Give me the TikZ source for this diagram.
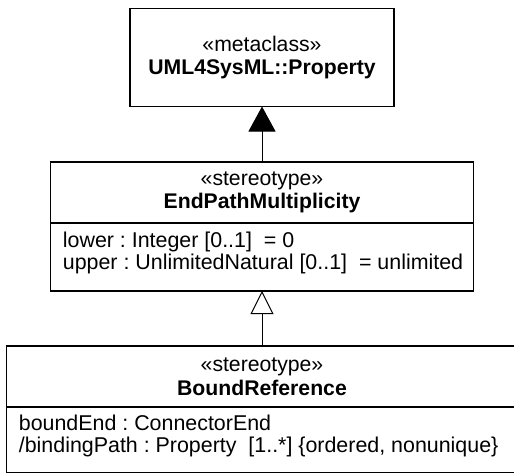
\documentclass[tikz,border=0pt]{standalone}
\usepackage{fontspec}
\setmainfont{Liberation Sans}
\usetikzlibrary{arrows.meta}
\frenchspacing

\begin{document}
\begin{tikzpicture}[x=.5pt,y=-.5pt,
  umlbox/.style={draw,line width=.7pt,inner sep=0pt,outer sep=0pt,
    font=\fontsize{10.6}{11.75}\selectfont,align=center},
  attrtext/.style={inner sep=0pt,anchor=north west,align=left,
    font=\fontsize{10.7}{11}\selectfont}]
\useasboundingbox (0,0) rectangle (514,473);
\clip (0,0) rectangle (514,473);

% metaclass
\node[umlbox,minimum width=132pt,minimum height=49pt] (prop) at (262,57.5)
  {«metaclass»\\\textbf{UML4SysML::Property}};

% EndPathMultiplicity
\node[umlbox,minimum width=211.5pt,minimum height=30.5pt] (epmHead) at (262,192.5)
  {«stereotype»\\\textbf{EndPathMultiplicity}};
\node[umlbox,minimum width=211.5pt,minimum height=34pt] (epmAttr) at (262,257) {};
\node[attrtext,shift={(12,9)}] (epmText) at (epmAttr.north west)
  {lower : Integer [0..1]\ \ = 0\\upper : UnlimitedNatural [0..1]\ \ = unlimited};

% BoundReference
\node[umlbox,minimum width=255.5pt,minimum height=30.5pt] (brHead) at (262,376.5)
  {«stereotype»\\\textbf{BoundReference}};
\node[umlbox,minimum width=255.5pt,minimum height=32.75pt] (brAttr) at (262,439.75) {};
\node[attrtext,shift={(12,8)}] (brText) at (brAttr.north west)
  {boundEnd : ConnectorEnd\\/bindingPath : Property\ \ [1..*] \{ordered, nonunique\}};

% extension and generalization
\draw[line width=.5pt,-{Triangle[width=13.5pt,length=12.5pt]}] (epmHead.north) -- (prop.south);
\draw[line width=.5pt,-{Triangle[open,fill=white,width=11.5pt,length=11.5pt]}] (brHead.north) -- (epmAttr.south);

\end{tikzpicture}
\end{document}
